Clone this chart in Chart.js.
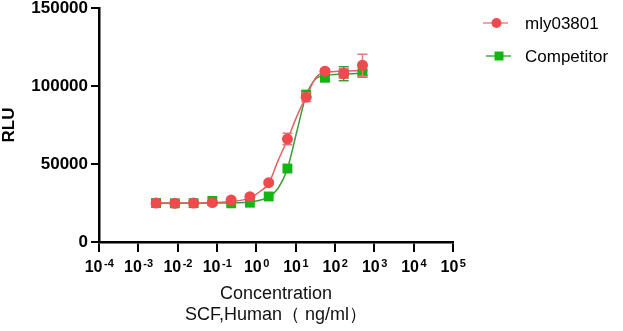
<!DOCTYPE html>
<html>
<head>
<meta charset="utf-8">
<script src="https://cdn.jsdelivr.net/npm/chart.js@4.4.1/dist/chart.umd.min.js"></script>
<style>
  html, body { margin: 0; padding: 0; background: #fff; }
  #wrap { width: 623px; height: 331px; position: relative; }
</style>
</head>
<body>
<div id="wrap"><canvas id="doseChart" width="623" height="331"></canvas></div>
<script>
// concentrations (ng/ml), 3-fold dilution series
const concentrations = [0.00282, 0.00847, 0.0254, 0.0762, 0.229, 0.686, 2.06, 6.17, 18.5, 55.6, 166.7, 500];

// measured RLU (mean) and error
const mlyMean = [25000, 24800, 25000, 25300, 26900, 29000, 38000, 66000, 92800, 109500, 108000, 113300];
const mlyErr = [0, 0, 0, 0, 0, 0, 0, 3700, 2800, 1200, 3000, 7000];
const compMean = [25000, 24800, 24900, 26300, 24800, 25200, 29200, 47100, 94500, 105800, 107800, 108400];
const compErr = [0, 0, 0, 0, 0, 0, 0, 0, 1500, 3300, 4500, 1500];

// fitted curves
const fitConc = [0.00282, 0.00847, 0.0254, 0.0762, 0.229, 0.686, 1.22, 2.06, 3.55, 6.17, 10.9, 18.5, 32.7, 55.6, 166.7, 500];
const mlyFit = [25000, 25000, 25050, 25250, 25900, 28300, 32200, 37500, 52000, 65500, 81000, 93200, 105500, 108600, 109600, 109800];
const compFit = [24900, 24900, 24900, 24950, 25100, 25700, 26800, 28800, 34300, 47000, 71600, 94000, 104700, 106600, 107700, 108200];

const xExponents = [-4, -3, -2, -1, 0, 1, 2, 3, 4, 5];
const yTicks = [0, 50000, 100000, 150000];

const RED = '#ef4a4e';
const RED_LINE = '#e26263';
const RED_BAR = '#e77a7c';
const GREEN = '#12b512';
const GREEN_LINE = '#3a9e3a';
const FONT = 'Liberation Sans, Arial, sans-serif';

const toPoints = (xs, ys) => xs.map((x, i) => ({ x: x, y: ys[i] }));

// error bars drawn just before the marker datasets
const errorBars = {
  id: 'errorBars',
  beforeDatasetDraw(chart, args) {
    const ds = chart.data.datasets[args.index];
    if (!ds.errors) return;
    const ctx = chart.ctx;
    const y = chart.scales.y;
    ctx.save();
    ctx.strokeStyle = ds.errorColor;
    ctx.lineWidth = 1.5;
    args.meta.data.forEach((pt, i) => {
      const e = ds.errors[i];
      if (!e) return;
      const top = y.getPixelForValue(ds.data[i].y + e);
      const bot = y.getPixelForValue(ds.data[i].y - e);
      ctx.beginPath();
      ctx.moveTo(pt.x, top); ctx.lineTo(pt.x, bot);
      ctx.moveTo(pt.x - 5, top); ctx.lineTo(pt.x + 5, top);
      ctx.moveTo(pt.x - 5, bot); ctx.lineTo(pt.x + 5, bot);
      ctx.stroke();
    });
    ctx.restore();
  }
};

// 10^n tick labels and the legend
const extras = {
  id: 'extras',
  afterDraw(chart) {
    const ctx = chart.ctx;
    const x = chart.scales.x;
    ctx.save();
    ctx.fillStyle = '#000';
    ctx.textBaseline = 'alphabetic';
    xExponents.forEach(e => {
      const px = x.getPixelForValue(Math.pow(10, e));
      ctx.font = 'bold 16px ' + FONT;
      const wBase = ctx.measureText('10').width;
      ctx.font = 'bold 11px ' + FONT;
      const exp = String(e);
      const wExp = ctx.measureText(exp).width;
      const start = px - (wBase + 1 + wExp) / 2;
      ctx.font = 'bold 16px ' + FONT;
      ctx.fillText('10', start, 272);
      ctx.font = 'bold 11px ' + FONT;
      ctx.fillText(exp, start + wBase + 1.5, 266.5);
    });

    // legend
    const rows = [
      { label: 'mly03801', y: 23, line: '#f08486', color: RED, style: 'circle', lx0: 483, lx1: 508, mx: 496.5 },
      { label: 'Competitor', y: 56, line: '#3bb53b', color: GREEN, style: 'rect', lx0: 486, lx1: 511, mx: 499 }
    ];
    rows.forEach(r => {
      ctx.strokeStyle = r.line;
      ctx.lineWidth = 1.5;
      ctx.beginPath();
      ctx.moveTo(r.lx0, r.y); ctx.lineTo(r.lx1, r.y);
      ctx.stroke();
      ctx.fillStyle = r.color;
      if (r.style === 'circle') {
        ctx.beginPath();
        ctx.arc(r.mx, r.y, 5, 0, Math.PI * 2);
        ctx.fill();
      } else {
        ctx.fillRect(r.mx - 4.5, r.y - 4.5, 9, 9);
      }
      ctx.fillStyle = '#000';
      ctx.font = '17px ' + FONT;
      ctx.textBaseline = 'middle';
      ctx.fillText(r.label, 525, r.y + 1);
    });
    ctx.restore();
  }
};

new Chart(document.getElementById('doseChart'), {
  type: 'scatter',
  data: {
    datasets: [
      {
        label: 'mly03801',
        data: toPoints(concentrations, mlyMean),
        errors: mlyErr,
        errorColor: RED_BAR,
        pointStyle: 'circle',
        pointRadius: 5.5,
        backgroundColor: RED,
        borderWidth: 0,
        showLine: false,
        order: 0
      },
      {
        label: 'Competitor',
        data: toPoints(concentrations, compMean),
        errors: compErr,
        errorColor: GREEN_LINE,
        pointStyle: 'rect',
        pointRadius: 7,
        backgroundColor: GREEN,
        borderWidth: 0,
        showLine: false,
        order: 1
      },
      {
        label: 'mly fit',
        data: toPoints(fitConc, mlyFit),
        showLine: true,
        pointRadius: 0,
        borderColor: RED_LINE,
        borderWidth: 1.5,
        cubicInterpolationMode: 'monotone',
        order: 2
      },
      {
        label: 'comp fit',
        data: toPoints(fitConc, compFit),
        showLine: true,
        pointRadius: 0,
        borderColor: GREEN_LINE,
        borderWidth: 1.5,
        cubicInterpolationMode: 'monotone',
        order: 3
      }
    ]
  },
  options: {
    responsive: false,
    animation: false,
    events: [],
    layout: { padding: { top: 8, left: 0, right: 170, bottom: 0 } },
    plugins: { legend: { display: false }, tooltip: { enabled: false } },
    scales: {
      x: {
        type: 'logarithmic',
        min: 1e-4,
        max: 1e5,
        afterBuildTicks: (scale) => {
          scale.ticks = xExponents.map(e => ({ value: Math.pow(10, e) }));
        },
        afterFit: (scale) => {
          scale.height = 89;
          scale.paddingLeft = 0;
          scale.paddingRight = 0;
        },
        ticks: { callback: () => '', autoSkip: false, maxRotation: 0 },
        grid: { drawOnChartArea: false, drawTicks: true, tickLength: 10, color: '#000', lineWidth: 2 },
        border: { color: '#000', width: 2.5 },
        title: {
          display: true,
          text: ['Concentration', 'SCF,Human（ ng/ml）'],
          color: '#111',
          font: { family: FONT, size: 18, lineHeight: 1.17 },
          padding: { top: 0, bottom: 5 }
        }
      },
      y: {
        min: 0,
        max: 150000,
        afterBuildTicks: (scale) => {
          scale.ticks = yTicks.map(v => ({ value: v }));
        },
        afterFit: (scale) => {
          scale.width = 99;
          scale.paddingTop = 0;
          scale.paddingBottom = 0;
        },
        ticks: {
          color: '#000',
          padding: 3,
          callback: (v) => String(v),
          font: { family: FONT, size: 17, weight: 'bold' }
        },
        grid: { drawOnChartArea: false, drawTicks: true, tickLength: 8, color: '#000', lineWidth: 2 },
        border: { color: '#000', width: 2.5 },
        title: {
          display: true,
          text: 'RLU',
          color: '#000',
          font: { family: FONT, size: 17, weight: 'bold', lineHeight: 1.1 },
          padding: { top: 0, bottom: 0 }
        }
      }
    }
  },
  plugins: [errorBars, extras]
});
</script>
</body>
</html>
